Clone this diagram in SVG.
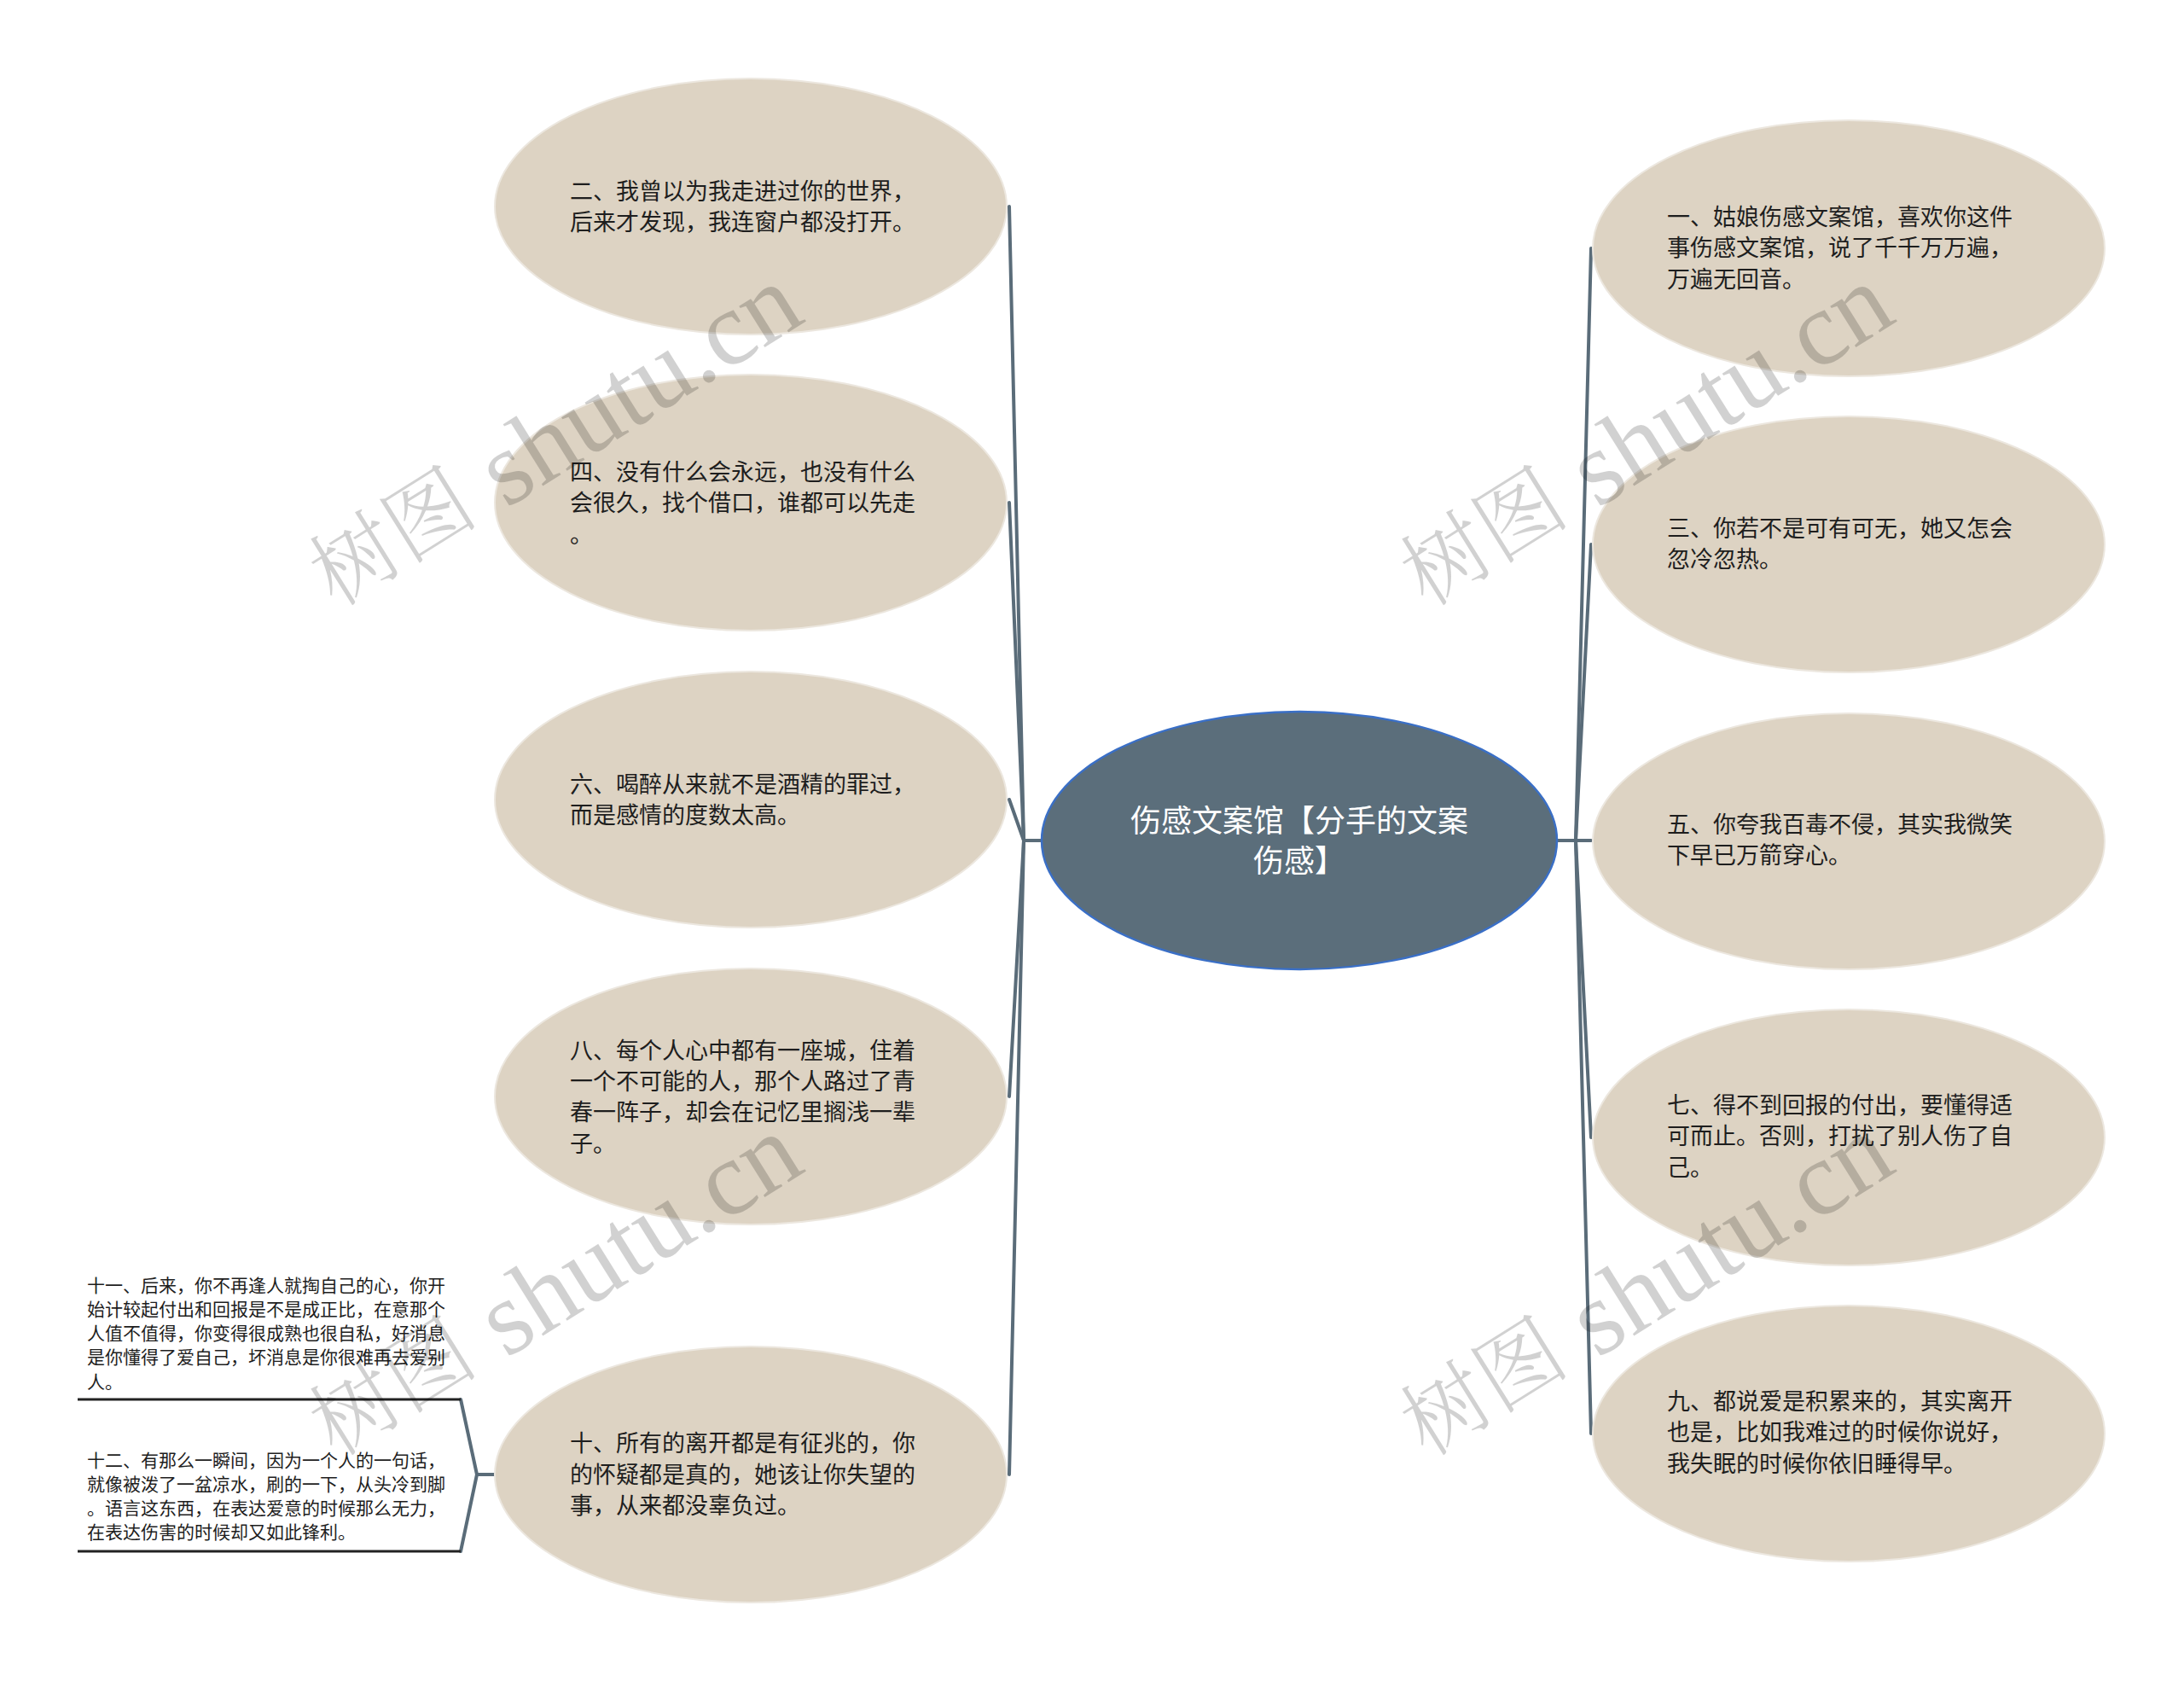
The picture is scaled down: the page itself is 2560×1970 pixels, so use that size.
<svg xmlns="http://www.w3.org/2000/svg" width="2560" height="1970" viewBox="0 0 2560 1970">
<style>
.bg{fill:#ffffff}
.leaf{fill:#ddd3c3;stroke:#ece7df;stroke-width:2}
.root{fill:#5b6e7b;stroke:#3a6fc6;stroke-width:2.5}
.t{font-family:"Noto Sans CJK SC","Noto Sans",sans-serif;font-size:27px;fill:#1e1e1e}
.rt{font-family:"Noto Sans CJK SC","Noto Sans",sans-serif;font-size:36px;fill:#ffffff;text-anchor:middle}
.st{font-family:"Noto Sans CJK SC","Noto Sans",sans-serif;font-size:21px;fill:#1e1e1e}
.ul{stroke:#222222;stroke-width:3;fill:none}
.conn path{fill:none;stroke:#5a6c79;stroke-width:4;stroke-linecap:round}
.wm{font-family:"Liberation Serif","Noto Serif CJK SC","Noto Sans CJK SC",serif;font-size:124px;fill:#000000;fill-opacity:0.18;text-anchor:middle;dominant-baseline:central}
.wm .cj{font-size:100px;font-weight:300}
</style>
<rect class="bg" x="0" y="0" width="2560" height="1970"/>

<g id="connectors" class="conn">
<path d="M1221 985 L1200 985"/>
<path d="M1200 985 L1183 242"/>
<path d="M1200 985 L1183 589"/>
<path d="M1200 985 L1183 937"/>
<path d="M1200 985 L1183 1285"/>
<path d="M1200 985 L1183 1728"/>
<path d="M1825 985 L1865 985"/>
<path d="M1847 985 L1865 291"/>
<path d="M1847 985 L1865 638"/>
<path d="M1847 985 L1865 1333"/>
<path d="M1847 985 L1865 1680"/>
<path d="M580 1728 L559 1728"/>
<path d="M559 1728 L540 1640"/>
<path d="M559 1728 L540 1818"/>
</g>

<g id="root">
<ellipse class="root" cx="1523" cy="985" rx="302" ry="151"/>
<text class="rt" x="1523" y="975">伤感文案馆【分手的文案</text>
<text class="rt" x="1523" y="1022">伤感】</text>
</g>

<g id="n2">
<ellipse class="leaf" cx="880" cy="242" rx="300" ry="150"/>
<text class="t" x="668" y="234">二、我曾以为我走进过你的世界，</text>
<text class="t" x="668" y="270">后来才发现，我连窗户都没打开。</text>
</g>
<g id="n4">
<ellipse class="leaf" cx="880" cy="589" rx="300" ry="150"/>
<text class="t" x="668" y="563">四、没有什么会永远，也没有什么</text>
<text class="t" x="668" y="599">会很久，找个借口，谁都可以先走</text>
<text class="t" x="668" y="636">。</text>
</g>
<g id="n6">
<ellipse class="leaf" cx="880" cy="937" rx="300" ry="150"/>
<text class="t" x="668" y="929">六、喝醉从来就不是酒精的罪过，</text>
<text class="t" x="668" y="965">而是感情的度数太高。</text>
</g>
<g id="n8">
<ellipse class="leaf" cx="880" cy="1285" rx="300" ry="150"/>
<text class="t" x="668" y="1241">八、每个人心中都有一座城，住着</text>
<text class="t" x="668" y="1277">一个不可能的人，那个人路过了青</text>
<text class="t" x="668" y="1313">春一阵子，却会在记忆里搁浅一辈</text>
<text class="t" x="668" y="1350">子。</text>
</g>
<g id="n10">
<ellipse class="leaf" cx="880" cy="1728" rx="300" ry="150"/>
<text class="t" x="668" y="1701">十、所有的离开都是有征兆的，你</text>
<text class="t" x="668" y="1738">的怀疑都是真的，她该让你失望的</text>
<text class="t" x="668" y="1774">事，从来都没辜负过。</text>
</g>

<g id="n1">
<ellipse class="leaf" cx="2167" cy="291" rx="300" ry="150"/>
<text class="t" x="1954" y="264">一、姑娘伤感文案馆，喜欢你这件</text>
<text class="t" x="1954" y="300">事伤感文案馆，说了千千万万遍，</text>
<text class="t" x="1954" y="337">万遍无回音。</text>
</g>
<g id="n3">
<ellipse class="leaf" cx="2167" cy="638" rx="300" ry="150"/>
<text class="t" x="1954" y="629">三、你若不是可有可无，她又怎会</text>
<text class="t" x="1954" y="665">忽冷忽热。</text>
</g>
<g id="n5">
<ellipse class="leaf" cx="2167" cy="986" rx="300" ry="150"/>
<text class="t" x="1954" y="976">五、你夸我百毒不侵，其实我微笑</text>
<text class="t" x="1954" y="1012">下早已万箭穿心。</text>
</g>
<g id="n7">
<ellipse class="leaf" cx="2167" cy="1333" rx="300" ry="150"/>
<text class="t" x="1954" y="1305">七、得不到回报的付出，要懂得适</text>
<text class="t" x="1954" y="1341">可而止。否则，打扰了别人伤了自</text>
<text class="t" x="1954" y="1378">己。</text>
</g>
<g id="n9">
<ellipse class="leaf" cx="2167" cy="1680" rx="300" ry="150"/>
<text class="t" x="1954" y="1652">九、都说爱是积累来的，其实离开</text>
<text class="t" x="1954" y="1688">也是，比如我难过的时候你说好，</text>
<text class="t" x="1954" y="1725">我失眠的时候你依旧睡得早。</text>
</g>

<g id="n11">
<text class="st" x="102" y="1514">十一、后来，你不再逢人就掏自己的心，你开</text>
<text class="st" x="102" y="1542">始计较起付出和回报是不是成正比，在意那个</text>
<text class="st" x="102" y="1570">人值不值得，你变得很成熟也很自私，好消息</text>
<text class="st" x="102" y="1598">是你懂得了爱自己，坏消息是你很难再去爱别</text>
<text class="st" x="102" y="1627">人。</text>
<path class="ul" d="M91 1640 L540 1640"/>
</g>
<g id="n12">
<text class="st" x="102" y="1719">十二、有那么一瞬间，因为一个人的一句话，</text>
<text class="st" x="102" y="1747">就像被泼了一盆凉水，刷的一下，从头冷到脚</text>
<text class="st" x="102" y="1775">。语言这东西，在表达爱意的时候那么无力，</text>
<text class="st" x="102" y="1803">在表达伤害的时候却又如此锋利。</text>
<path class="ul" d="M91 1818 L540 1818"/>
</g>

<g id="watermarks">
<text class="wm" transform="translate(650 512) rotate(-32)"><tspan class="cj">树图</tspan> shutu.cn</text>
<text class="wm" transform="translate(1929 512) rotate(-32)"><tspan class="cj">树图</tspan> shutu.cn</text>
<text class="wm" transform="translate(650 1508) rotate(-32)"><tspan class="cj">树图</tspan> shutu.cn</text>
<text class="wm" transform="translate(1929 1508) rotate(-32)"><tspan class="cj">树图</tspan> shutu.cn</text>
</g>
</svg>
